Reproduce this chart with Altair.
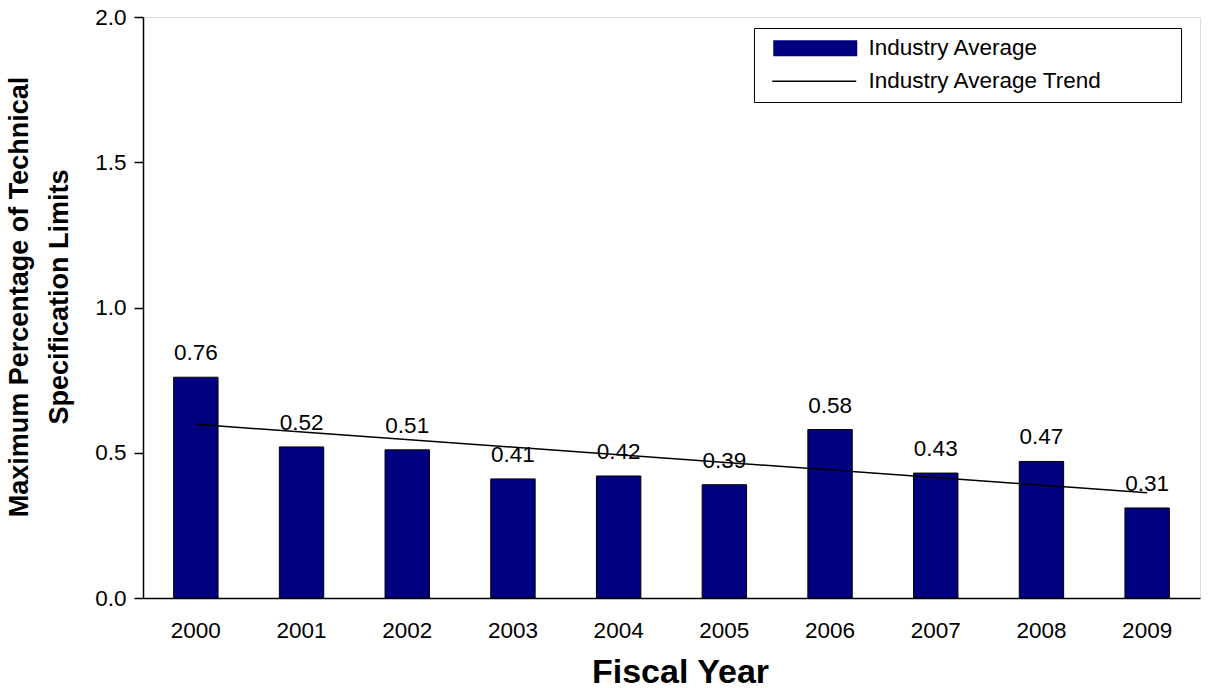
import altair as alt
import pandas as pd

years = [2000, 2001, 2002, 2003, 2004, 2005, 2006, 2007, 2008, 2009]
values = [0.76, 0.52, 0.51, 0.41, 0.42, 0.39, 0.58, 0.43, 0.47, 0.31]
series_bar = "Industry Average"
series_trend = "Industry Average Trend"
y_ticks = [0.0, 0.5, 1.0, 1.5, 2.0]
y_title = ["Maximum Percentage of Technical", "Specification Limits"]
x_title = "Fiscal Year"

df = pd.DataFrame({"year": years, "value": values, "series": series_bar})

FONT = "Liberation Sans"
FS = 22.5
# non-breaking spaces closed by a zero-width char so Vega's trim keeps them
PAD_TXT = "\u00a0" * 11 + "\u200b"

x_enc = alt.X(
    "year:O",
    scale=alt.Scale(paddingInner=0.58, paddingOuter=0.29),
    axis=alt.Axis(
        title=x_title, labelAngle=0, ticks=False, labelPadding=21,
        labelFontSize=FS, labelColor="black", labelFont=FONT,
        domainColor="black", domainWidth=1.5,
        titleFontSize=34, titleFontWeight="bold", titleFont=FONT, titleColor="black",
        titleX=537, titleY=84, titleBaseline="alphabetic", titleAlign="center",
    ),
)
y_enc = alt.Y(
    "value:Q",
    scale=alt.Scale(domain=[0, 2], nice=False),
    axis=alt.Axis(
        values=y_ticks, format=".1f", grid=False, tickSize=9, tickColor="black",
        tickWidth=1.5, labelPadding=8, labelFontSize=FS, labelColor="black", labelFont=FONT,
        domainColor="black", domainWidth=1.5,
        title=y_title, titleFontSize=27, titleFontWeight="bold", titleFont=FONT,
        titleColor="black", titleLineHeight=40, titleAngle=270,
        titleX=-116, titleY=279.5, titleBaseline="alphabetic", titleAlign="center",
    ),
)

base = alt.Chart(df)

bars = base.mark_bar().encode(
    x=x_enc,
    y=y_enc,
    fill=alt.Fill(
        "series:N",
        scale=alt.Scale(domain=[series_bar, series_trend], range=["#000080", "transparent"]),
        legend=alt.Legend(
            title=None, orient="none", legendX=611, legendY=11, padding=9,
            strokeColor="black", symbolType="M-5.25,-1H5.25V1H-5.25Z", symbolSize=256,
            symbolStrokeWidth=0, symbolOffset=41, labelOffset=42, rowPadding=10,
            labelFontSize=FS, labelFont=FONT, labelColor="black", labelLimit=600,
            labelExpr="datum.label + '" + PAD_TXT + "'",
        ),
    ),
)

outline = base.mark_bar(fill=None, stroke="black", strokeWidth=1).encode(
    x="year:O", y="value:Q"
)

labels = base.mark_text(
    dy=-17, baseline="alphabetic", fontSize=FS, font=FONT, color="black"
).encode(
    x="year:O", y="value:Q", text=alt.Text("value:Q", format=".2f")
)

trend = (
    base.transform_regression("year", "value")
    .transform_calculate(series="'" + series_trend + "'")
    .mark_line(strokeWidth=1.5)
    .encode(
        x="year:O",
        y="value:Q",
        stroke=alt.Stroke(
            "series:N",
            scale=alt.Scale(domain=[series_trend], range=["black"]),
            legend=alt.Legend(
                title=None, orient="none", legendX=611, legendY=44, padding=9,
                symbolType="M-5.25,0H5.25", symbolSize=256, symbolStrokeWidth=1.5,
                symbolOffset=40, labelOffset=42, labelFontSize=FS, labelFont=FONT,
                labelExpr="''", labelLimit=600,
            ),
        ),
    )
)

chart = (
    alt.layer(bars, outline, trend, labels)
    .properties(
        width=1057, height=581,
        autosize=alt.AutoSizeParams(type="none"),
        padding={"left": 143, "top": 17, "right": 17, "bottom": 90},
        background="white",
    )
    .configure_view(stroke="black", strokeWidth=1.5)
    .configure(font=FONT)
)

chart.save("out.html", embed_options={"renderer": "svg", "actions": False})
